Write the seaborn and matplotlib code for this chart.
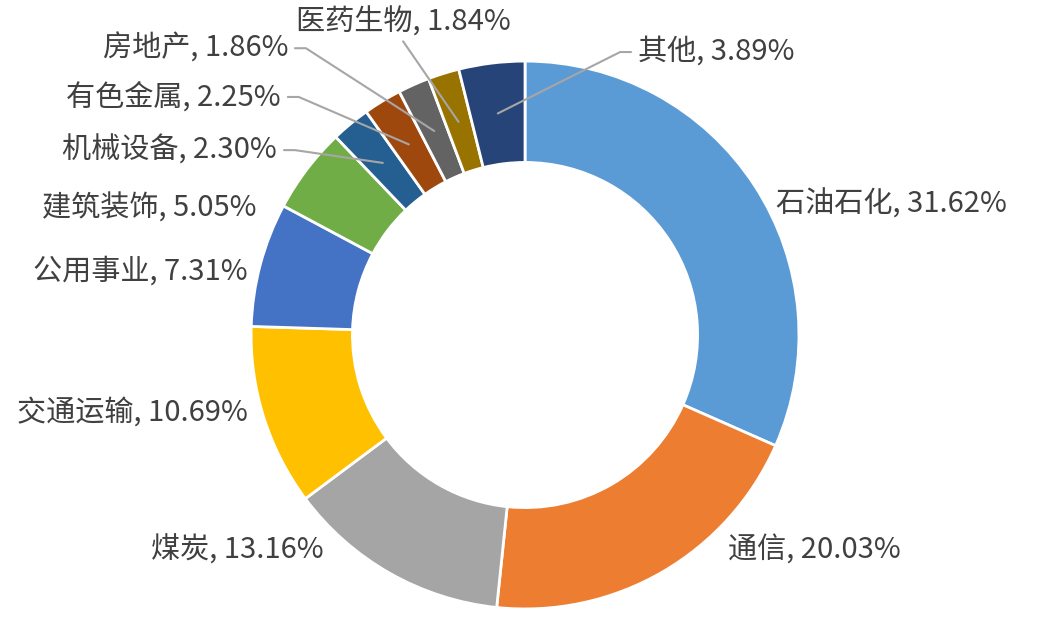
import numpy as np
import matplotlib
matplotlib.use('Agg')
import matplotlib.pyplot as plt
import seaborn as sns

sectors = ['石油石化', '通信', '煤炭', '交通运输', '公用事业', '建筑装饰',
           '机械设备', '有色金属', '房地产', '医药生物', '其他']
shares = [31.62, 20.03, 13.16, 10.69, 7.31, 5.05, 2.30, 2.25, 1.86, 1.84, 3.89]
colors = ['#5B9BD5', '#ED7D31', '#A5A5A5', '#FFC000', '#4472C4', '#70AD47',
          '#255E91', '#9E480E', '#636363', '#997300', '#264478']

sns.set_theme(style='white')
plt.rcParams['font.family'] = ['Noto Sans CJK SC', 'DejaVu Sans']

fig = plt.figure(figsize=(10.58, 6.21), dpi=100)
ax = fig.add_axes([0, 0, 1, 1])
wedges, _ = ax.pie(shares, colors=colors, startangle=90, counterclock=False,
                   radius=1.0, wedgeprops=dict(width=0.37, edgecolor='white', linewidth=2))
ax.set_xlim(-1.916, 1.945)
ax.set_ylim(-1.044, 1.223)
ax.set_aspect('equal')
ax.axis('off')

# label anchor (x, y, ha) in axis units, and whether a leader line is drawn
layout = [(0.916, 0.478, 'left', False),
          (0.741, -0.788, 'left', False),
          (-0.737, -0.788, 'right', False),
          (-1.011, -0.285, 'right', False),
          (-1.011, 0.230, 'right', False),
          (-0.982, 0.460, 'right', False),
          (-0.905, 0.675, 'right', True),
          (-0.891, 0.869, 'right', True),
          (-0.865, 1.047, 'right', True),
          (-0.445, 1.142, 'center', True),
          (0.412, 1.033, 'left', True)]

tc = '#404040'
lc = '#A6A6A6'
for w, name, v, (lx, ly, ha, line) in zip(wedges, sectors, shares, layout):
    ax.text(lx, ly, f'{name}, {v:.2f}%', ha=ha, va='center', fontsize=21, color=tc)
    if not line:
        continue
    ang = np.deg2rad((w.theta1 + w.theta2) / 2)
    px, py = 0.815 * np.cos(ang), 0.815 * np.sin(ang)
    if ha == 'right':
        x0 = lx + 0.025
        ax.plot([x0, x0 + 0.04, px], [ly, ly, py], color=lc, lw=1.5)
    elif ha == 'left':
        x0 = lx - 0.025
        ax.plot([x0, x0 - 0.04, px], [ly, ly, py], color=lc, lw=1.5)
    else:
        ax.plot([lx, px], [ly - 0.07, py], color=lc, lw=1.5)

fig.savefig('out.png', dpi=100, facecolor='white')
